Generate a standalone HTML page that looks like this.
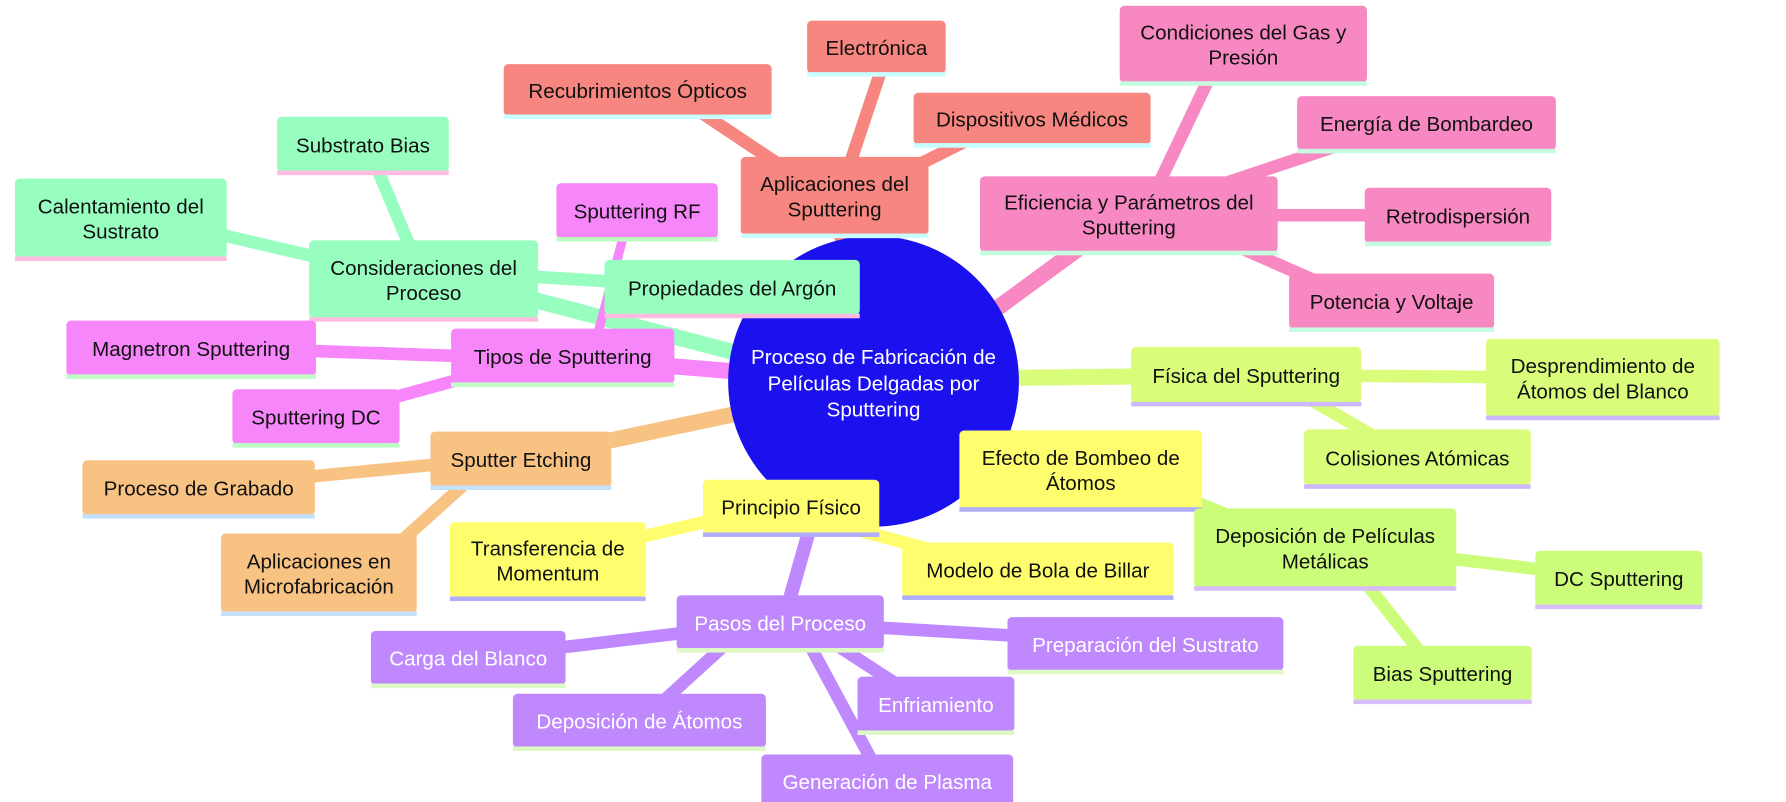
<!DOCTYPE html>
<html><head><meta charset="utf-8">
<style>
html,body{margin:0;padding:0;background:#fff;width:1786px;height:802px;overflow:hidden}
svg{display:block}
text{font-family:"Liberation Sans","DejaVu Sans",sans-serif;font-size:18px}
</style></head>
<body>
<svg id="mm" width="1786" height="802" viewBox="0 0 1560 700.5">
<g id="edges"></g>
<circle cx="763" cy="333" r="127" fill="#1b10ee"/>
<text x="763" y="318" fill="#fff" text-anchor="middle">Proceso de Fabricación de</text>
<text x="763" y="341" fill="#fff" text-anchor="middle">Películas Delgadas por</text>
<text x="763" y="364" fill="#fff" text-anchor="middle">Sputtering</text>
<g id="nodes"></g>
</svg>
<script>
const NS="http://www.w3.org/2000/svg";
// nodes: id, label lines, x1,y1,x2,y2, fill, stripe, text color
const nodeIds=["apl","ele","rec","dis","efi","con","ene","ret","pot","cons","sub","cal","arg","tip","rf","mag","dc","etch","grab","micro","prin","trans","bola","bomb","fis","desp","col","depm","dcs","bias","pasos","carga","prep","depa","enf","gen"];
const nodeLabels=["Aplicaciones del|Sputtering","Electrónica","Recubrimientos Ópticos","Dispositivos Médicos","Eficiencia y Parámetros del|Sputtering","Condiciones del Gas y|Presión","Energía de Bombardeo","Retrodispersión","Potencia y Voltaje","Consideraciones del|Proceso","Substrato Bias","Calentamiento del|Sustrato","Propiedades del Argón","Tipos de Sputtering","Sputtering RF","Magnetron Sputtering","Sputtering DC","Sputter Etching","Proceso de Grabado","Aplicaciones en|Microfabricación","Principio Físico","Transferencia de|Momentum","Modelo de Bola de Billar","Efecto de Bombeo de|Átomos","Física del Sputtering","Desprendimiento de|Átomos del Blanco","Colisiones Atómicas","Deposición de Películas|Metálicas","DC Sputtering","Bias Sputtering","Pasos del Proceso","Carga del Blanco","Preparación del Sustrato","Deposición de Átomos","Enfriamiento","Generación de Plasma"];
const nodeBoxes=[[647,137,811,205],[705,18,826,64],[440,56,674,101],[798,81,1005,126],[856,154,1116,220],[978,5,1194,72],[1133,84,1359,131],[1192,164,1355,212],[1126,239,1305,287],[270,210,470,278],[242,102,392,150],[13,156,198,225],[528,227,751,275],[394,287,589,335],[486,160,627,208],[58,280,276,328],[203,340,349,388],[376,377,534,425],[72,402,275,450],[193,466,364,535],[614,419,768,466],[393,456,564,522],[788,474,1025,521],[838,376,1050,444],[988,303,1189,352],[1298,296,1502,364],[1139,375,1337,424],[1043,444,1272,513],[1341,481,1487,529],[1182,564,1338,612],[591,520,772,567],[324,551,494,598],[880,539,1121,586],[448,606,669,653],[749,591,886,639],[665,659,885,705]];
const nodeSection=["r","r","r","r","p","p","p","p","p","g","g","g","g","m","m","m","m","o","o","o","y","y","y","y","l","l","l","l2","l2","l2","v","v","v","v","v","v"];
const sectionFill={r:"#f6867f",p:"#f788c2",g:"#98fec0",m:"#f686fa",o:"#f8c283",y:"#fdfd6e",l:"#d9fd7b",l2:"#ccfd7a",v:"#bf88fd"};
const sectionStripe={r:"#c8fefe",p:"#c6fde0",g:"#ffbce0",m:"#c0fdc4",o:"#c4e0fb",y:"#b0aefb",l:"#ccb8fb",l2:"#d8bdfb",v:"#def9c6"};
const sectionText={r:"#111",p:"#111",g:"#111",m:"#111",o:"#111",y:"#111",l:"#111",l2:"#111",v:"#fff"};
// edges: [from point, to point, section, width]
const edgeList=[
 [[760,260],[728,190],"r",14],[[740,150],[770,60],"r",11],[[690,150],[600,90],"r",11],[[790,150],[850,120],"r",11],
 [[870,270],[945,215],"p",14],[[1010,165],[1060,60],"p",11],[[1070,160],[1190,120],"p",11],[[1100,188],[1200,188],"p",11],[[1080,215],[1160,250],"p",11],
 [[650,310],[440,255],"g",14],[[360,220],[320,125],"g",11],[[300,230],[150,195],"g",11],[[440,240],[600,250],"g",11],
 [[650,325],[490,312],"m",14],[[520,300],[550,185],"m",8],[[430,312],[200,304],"m",11],[[450,318],[290,362],"m",11],
 [[650,360],[470,398],"o",14],[[420,402],[180,425],"o",11],[[420,410],[320,500],"o",11],
 [[720,420],[690,440],"y",14],[[640,450],[480,488],"y",11],[[700,450],[880,498],"y",11],
 [[880,330],[1080,328],"l",14],[[1150,328],[1390,330],"l",11],[[1120,335],[1230,398],"l",11],
 [[880,380],[940,410],"l2",12],[[1000,420],[1140,478],"l2",11],[[1200,480],[1410,505],"l2",11],[[1170,480],[1255,588],"l2",11],
 [[712,445],[685,540],"v",12],[[680,543],[410,575],"v",11],[[680,543],[1000,562],"v",11],[[650,548],[560,630],"v",11],[[710,550],[810,615],"v",11],[[700,550],[770,680],"v",11]
];
const eg=document.getElementById("edges");
edgeList.forEach(e=>{
  const l=document.createElementNS(NS,"line");
  l.setAttribute("x1",e[0][0]);l.setAttribute("y1",e[0][1]);
  l.setAttribute("x2",e[1][0]);l.setAttribute("y2",e[1][1]);
  l.setAttribute("stroke",sectionFill[e[2]]);l.setAttribute("stroke-width",e[3]);
  
  
  eg.appendChild(l);
});
const ng=document.getElementById("nodes");
nodeIds.forEach((id,i)=>{
  const [x1,y1,x2,y2]=nodeBoxes[i]; const s=nodeSection[i];
  const g=document.createElementNS(NS,"g");
  
  
  const r=document.createElementNS(NS,"rect");
  r.setAttribute("x",x1);r.setAttribute("y",y1);r.setAttribute("width",x2-x1);r.setAttribute("height",y2-y1);
  r.setAttribute("rx",4);r.setAttribute("fill",sectionFill[s]);
  g.appendChild(r);
  const st=document.createElementNS(NS,"rect");
  st.setAttribute("x",x1);st.setAttribute("y",y2-1);st.setAttribute("width",x2-x1);st.setAttribute("height",4);
  st.setAttribute("fill",sectionStripe[s]);
  g.appendChild(st);
  const lines=nodeLabels[i].split("|");
  const cx=(x1+x2)/2, cy=(y1+y2)/2+1;
  lines.forEach((ln,k)=>{
    const t=document.createElementNS(NS,"text");
    t.setAttribute("x",cx);
    t.setAttribute("y",cy+6+(k-(lines.length-1)/2)*22);
    t.setAttribute("text-anchor","middle");t.setAttribute("fill",sectionText[s]);
    t.textContent=ln;
    
    
    g.appendChild(t);
  });
  ng.appendChild(g);
});
</script>
</body></html>
